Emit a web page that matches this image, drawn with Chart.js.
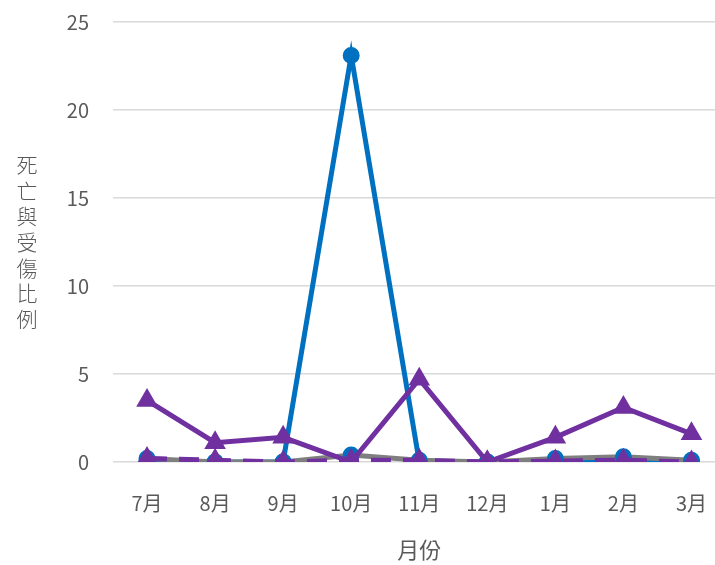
<!DOCTYPE html>
<html>
<head>
<meta charset="utf-8">
<script src="https://cdn.jsdelivr.net/npm/chart.js@4"></script>
<style>
  html, body { margin: 0; padding: 0; background: #fff; overflow: hidden; }
  #wrap { width: 738px; height: 565px; }
</style>
</head>
<body>
<div id="wrap"><canvas id="rateChart"></canvas></div>
<script>
// Months and series values
const months = ['7月', '8月', '9月', '10月', '11月', '12月', '1月', '2月', '3月'];
const blueSeries = [0, 0, 0, 23.1, 0, 0, 0, 0, 0];
const graySeries = [0.2, 0, 0, 0.4, 0.1, 0, 0.2, 0.3, 0.1];
const purpleSeries = [3.5, 1.1, 1.4, 0, 4.7, 0, 1.4, 3.1, 1.6];
const purpleDashSeries = [0.2, 0.1, 0, 0.1, 0.1, 0, 0.05, 0.1, 0];
const yTitle = '死亡與受傷比例';
const xTitle = '月份';

const textColor = '#595959';
Chart.defaults.font.family = "'Noto Sans CJK TC', 'Noto Sans', sans-serif";

// Draws the y title as stacked characters, like the original
const verticalTitle = {
    id: 'verticalTitle',
    afterDraw(chart) {
        const ctx = chart.ctx;
        const area = chart.chartArea;
        const chars = Array.from(yTitle);
        const step = 25.6;
        const mid = (area.top + area.bottom) / 2;
        const start = mid - step * (chars.length - 1) / 2;
        ctx.save();
        ctx.fillStyle = textColor;
        ctx.font = "300 21px 'Noto Sans CJK TC', sans-serif";
        ctx.textAlign = 'center';
        ctx.textBaseline = 'middle';
        chars.forEach((c, i) => ctx.fillText(c, 27, start + i * step));
        ctx.restore();
    }
};

new Chart(document.getElementById('rateChart'), {
    type: 'line',
    data: {
        labels: months,
        datasets: [
            {
                data: blueSeries,
                borderColor: '#0070C0',
                backgroundColor: '#0070C0',
                borderWidth: 5,
                pointStyle: 'circle',
                pointRadius: 6,
                order: 4
            },
            {
                data: graySeries,
                borderColor: '#7F7F7F',
                backgroundColor: '#0070C0',
                pointBorderColor: '#0070C0',
                borderWidth: 5,
                pointStyle: 'circle',
                pointRadius: 6,
                order: 3
            },
            {
                data: purpleSeries,
                borderColor: '#7030A0',
                backgroundColor: '#7030A0',
                borderWidth: 5,
                pointStyle: 'triangle',
                pointRadius: 7.5,
                order: 2
            },
            {
                data: purpleDashSeries,
                borderColor: '#7030A0',
                backgroundColor: '#7030A0',
                borderWidth: 5,
                borderDash: [20, 12],
                pointStyle: 'triangle',
                pointRadius: 7.5,
                order: 1
            }
        ]
    },
    options: {
        responsive: true,
        maintainAspectRatio: false,
        animation: false,
        layout: { padding: { top: 22, left: 0, right: 0, bottom: 0 } },
        plugins: {
            legend: { display: false },
            tooltip: { enabled: false }
        },
        scales: {
            x: {
                offset: true,
                grid: { display: false },
                border: { display: false },
                ticks: { color: textColor, font: { size: 20 }, padding: 21, maxRotation: 0 },
                title: { display: true, text: xTitle, color: textColor, font: { size: 22 }, padding: { top: 0, bottom: 2 } },
                afterFit: (s) => { s.height = 103; }
            },
            y: {
                min: 0,
                max: 25,
                ticks: { stepSize: 5, color: textColor, font: { size: 20 }, padding: 24 },
                grid: { color: '#D9D9D9', lineWidth: 1.5, drawTicks: false },
                border: { display: false },
                afterFit: (s) => { s.width = 113; s.paddingTop = 0; s.paddingBottom = 0; }
            }
        }
    },
    plugins: [verticalTitle]
});
</script>
</body>
</html>
